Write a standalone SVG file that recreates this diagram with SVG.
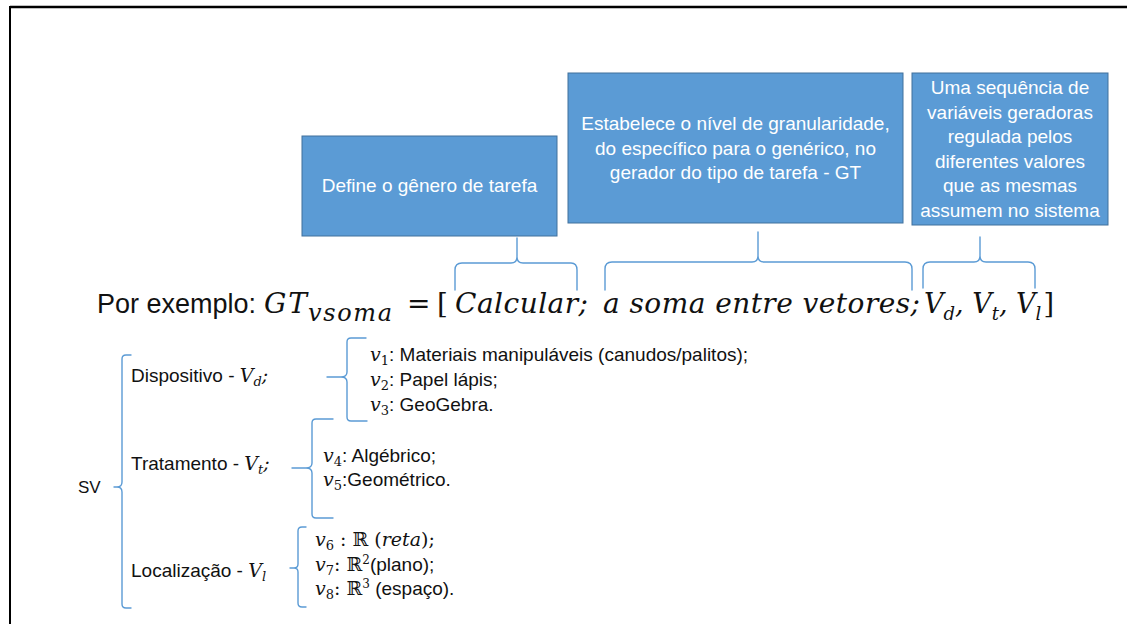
<svg xmlns="http://www.w3.org/2000/svg" width="1127" height="624" viewBox="0 0 1127 624">
<style>
.box{fill:#5b9bd5;stroke:#41719c;stroke-width:1}
.bt{font-family:"Liberation Sans",Arial,sans-serif;font-size:19px;fill:#fff;text-anchor:middle}
.br{fill:none;stroke:#5b9bd5;stroke-width:1.4;stroke-linecap:round;stroke-linejoin:round}
.t{font-family:"Liberation Sans",Arial,sans-serif;fill:#111}
.m{font-family:"DejaVu Serif","Liberation Serif",serif;font-style:italic;fill:#111}
.r{font-family:"DejaVu Serif","DejaVu Sans",serif;font-style:normal;fill:#111}
</style>
<rect width="1127" height="624" fill="#fff"/>
<g id="frame">
<line x1="10" y1="7" x2="1127" y2="7" stroke="#000" stroke-width="2.5"/>
<line x1="10" y1="6" x2="10" y2="624" stroke="#000" stroke-width="2"/>
</g>
<g id="box-genero">
<rect class="box" x="302" y="136" width="255" height="100"/>
<text class="bt" x="429.5" y="192">Define o gênero de tarefa</text>
</g>
<g id="box-granularidade">
<rect class="box" x="568" y="73" width="335" height="150"/>
<text class="bt" x="735.5" y="130">Estabelece o nível de granularidade,</text>
<text class="bt" x="735.5" y="154.5">do específico para o genérico, no</text>
<text class="bt" x="735.5" y="179">gerador do tipo de tarefa - GT</text>
</g>
<g id="box-variaveis">
<rect class="box" x="912" y="73" width="196" height="152"/>
<text class="bt" x="1010" y="94">Uma sequência de</text>
<text class="bt" x="1010" y="118.5">variáveis geradoras</text>
<text class="bt" x="1010" y="143">regulada pelos</text>
<text class="bt" x="1010" y="167.5">diferentes valores</text>
<text class="bt" x="1010" y="192">que as mesmas</text>
<text class="bt" x="1010" y="216.5">assumem no sistema</text>
</g>
<g id="connectors">
<path class="br" d="M455,290 V270 Q455,263 462,263 H511 Q517,263 517,257 V238 M517,257 Q517,263 523,263 H571 Q577,263 577,270 V290"/>
<path class="br" d="M605,290 V269 Q605,262 612,262 H752 Q758,262 758,256 V232 M758,256 Q758,262 764,262 H905 Q912,262 912,269 V290"/>
<path class="br" d="M923,288 V269 Q923,262 930,262 H974 Q980,262 980,256 V237 M980,256 Q980,262 986,262 H1028 Q1035,262 1035,269 V288"/>
<path class="br" d="M131,355 H126 Q122,355 122,359 V482 Q122,487 117,487 H114 M117,487 Q122,487 122,492 V604 Q122,608 126,608 H131"/>
<path class="br" d="M366,338 H351 Q347,338 347,342 V372 Q347,377 341,377 H327 M341,377 Q347,377 347,382 V417 Q347,421 351,421 H367"/>
<path class="br" d="M333,419 H316 Q312,419 312,423 V463 Q312,468 306,468 H292 M306,468 Q312,468 312,473 V514 Q312,518 316,518 H333"/>
<path class="br" d="M306,527 H302 Q298,527 298,531 V564 Q298,568 294,568 H290 M294,568 Q298,568 298,572 V603 Q298,607 302,607 H306"/>
</g>
<g id="equation">
<text class="t" x="97" y="313" style="font-size:27px">Por exemplo:</text>
<text class="m" x="264" y="313" font-size="28" textLength="43">GT</text>
<text class="m" x="308" y="321" font-size="24" textLength="84">vsoma</text>
<text class="r" x="407" y="313" font-size="28">=</text>
<text class="r" x="437" y="313" font-size="28">[</text>
<text class="m" x="455" y="313" font-size="28" textLength="133">Calcular;</text>
<text class="m" x="603" y="313" font-size="28" textLength="317">a soma entre vetores;</text>
<text class="m" x="924" y="313" font-size="27">V<tspan font-size="18" dy="7">d</tspan><tspan dy="-7">, V</tspan><tspan font-size="18" dy="7">t</tspan><tspan dy="-7">, V</tspan><tspan font-size="18" dy="7">l</tspan><tspan class="r" dy="-7" dx="2">]</tspan></text>
</g>
<g id="sv">
<text class="t" x="78" y="493" style="font-size:17px">SV</text>
</g>
<g id="dispositivo">
<text class="t" x="131" y="382" style="font-size:19px">Dispositivo - <tspan class="m">V</tspan><tspan class="m" font-size="13" dy="4">d</tspan><tspan class="m" dy="-4">;</tspan></text>
<text class="t" x="370" y="361" style="font-size:19px"><tspan class="m">v</tspan><tspan class="r" font-size="13" dy="4">1</tspan><tspan dy="-4">: Materiais manipuláveis (canudos/palitos);</tspan></text>
<text class="t" x="370" y="386" style="font-size:19px"><tspan class="m">v</tspan><tspan class="r" font-size="13" dy="4">2</tspan><tspan dy="-4">: Papel lápis;</tspan></text>
<text class="t" x="370" y="411" style="font-size:19px"><tspan class="m">v</tspan><tspan class="r" font-size="13" dy="4">3</tspan><tspan dy="-4">: GeoGebra.</tspan></text>
</g>
<g id="tratamento">
<text class="t" x="131" y="470" style="font-size:19px">Tratamento - <tspan class="m">V</tspan><tspan class="m" font-size="13" dy="4">t</tspan><tspan class="m" dy="-4">;</tspan></text>
<text class="t" x="323" y="462" style="font-size:19px"><tspan class="m">v</tspan><tspan class="r" font-size="13" dy="4">4</tspan><tspan dy="-4">: Algébrico;</tspan></text>
<text class="t" x="323" y="486" style="font-size:19px"><tspan class="m">v</tspan><tspan class="r" font-size="13" dy="4">5</tspan><tspan dy="-4">:Geométrico.</tspan></text>
</g>
<g id="localizacao">
<text class="t" x="131" y="577" style="font-size:19px">Localização - <tspan class="m">V</tspan><tspan class="m" font-size="13" dy="4">l</tspan></text>
<text class="t" x="315" y="546" style="font-size:19px"><tspan class="m">v</tspan><tspan class="r" font-size="13" dy="4">6</tspan><tspan class="r" dy="-4"> : ℝ (</tspan><tspan class="m">reta</tspan><tspan class="r">);</tspan></text>
<text class="t" x="315" y="571" style="font-size:19px"><tspan class="m">v</tspan><tspan class="r" font-size="13" dy="4">7</tspan><tspan class="r" dy="-4">: ℝ</tspan><tspan class="r" font-size="12" dy="-7">2</tspan><tspan dy="7">(plano);</tspan></text>
<text class="t" x="315" y="595" style="font-size:19px"><tspan class="m">v</tspan><tspan class="r" font-size="13" dy="4">8</tspan><tspan class="r" dy="-4">: ℝ</tspan><tspan class="r" font-size="12" dy="-7">3</tspan><tspan dy="7"> (espaço).</tspan></text>
</g>
</svg>
